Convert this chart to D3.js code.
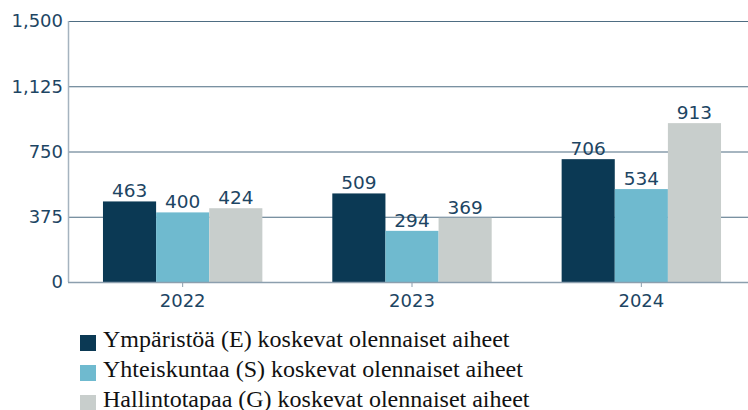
<!DOCTYPE html>
<html>
<head>
<meta charset="utf-8">
<script src="https://cdn.jsdelivr.net/npm/d3@7"></script>
<style>
  body { margin: 0; background: #fff; }
  svg { display: block; }
</style>
</head>
<body>
<svg id="chart" width="748" height="410"></svg>
<script>
// data
var years = ["2022", "2023", "2024"];
var envValues = [463, 509, 706];
var socValues = [400, 294, 534];
var govValues = [424, 369, 913];
var yTicks = [0, 375, 750, 1125, 1500];
var seriesNames = [
	"Ympäristöä (E) koskevat olennaiset aiheet",
	"Yhteiskuntaa (S) koskevat olennaiset aiheet",
	"Hallintotapaa (G) koskevat olennaiset aiheet"
];
var seriesColors = ["#0b3954", "#6fbacf", "#c8cecc"];

var series = [envValues, socValues, govValues];
var textColor = "#1d4563";

var svg = d3.select("#chart");
var plot = { left: 68, right: 756, top: 21, bottom: 282 };

var x = d3.scaleBand().domain(years).range([plot.left, plot.right]).paddingInner(0.305).paddingOuter(0.1525);
var xSub = d3.scaleBand().domain([0, 1, 2]).range([0, x.bandwidth()]);
var y = d3.scaleLinear().domain([0, 1500]).range([plot.bottom, plot.top]);

// gridlines
svg.append("g").selectAll("line")
	.data(yTicks.filter(function (d) { return d > 0; }))
	.enter().append("line")
	.attr("x1", plot.left).attr("x2", 748)
	.attr("y1", function (d) { return y(d) + 0.5; })
	.attr("y2", function (d) { return y(d) + 0.5; })
	.attr("stroke", "#4e6d82").attr("stroke-width", 1.2);

// y labels
svg.append("g").selectAll("text")
	.data(yTicks)
	.enter().append("text")
	.attr("x", plot.left - 5)
	.attr("y", function (d) { return y(d); })
	.attr("dy", "0.35em")
	.attr("text-anchor", "end")
	.attr("font-family", "DejaVu Sans")
	.attr("font-size", 18)
	.attr("fill", textColor)
	.text(function (d) { return d3.format(",")(d); });

// bars
var groups = svg.append("g").selectAll("g")
	.data(years)
	.enter().append("g")
	.attr("transform", function (d) { return "translate(" + x(d) + ",0)"; });

groups.selectAll("rect")
	.data(function (d, i) { return series.map(function (s, k) { return { k: k, v: s[i] }; }); })
	.enter().append("rect")
	.attr("x", function (d) { return xSub(d.k); })
	.attr("width", xSub.bandwidth())
	.attr("y", function (d) { return y(d.v); })
	.attr("height", function (d) { return plot.bottom - y(d.v); })
	.attr("fill", function (d) { return seriesColors[d.k]; });

groups.selectAll("text")
	.data(function (d, i) { return series.map(function (s, k) { return { k: k, v: s[i] }; }); })
	.enter().append("text")
	.attr("x", function (d) { return xSub(d.k) + xSub.bandwidth() / 2; })
	.attr("y", function (d) { return y(d.v) - 4; })
	.attr("text-anchor", "middle")
	.attr("font-family", "DejaVu Sans")
	.attr("font-size", 18.5)
	.attr("fill", textColor)
	.text(function (d) { return d.v; });

// y axis line
svg.append("line")
	.attr("x1", plot.left + 0.5).attr("x2", plot.left + 0.5)
	.attr("y1", plot.top).attr("y2", plot.bottom)
	.attr("stroke", "#a5b3bf").attr("stroke-width", 1.5);

// x axis
var xAxis = svg.append("g")
	.attr("transform", "translate(0," + plot.bottom + ")")
	.call(d3.axisBottom(x).tickSize(5).tickSizeOuter(0));
xAxis.select(".domain").attr("stroke", "#8c9fae").attr("stroke-width", 1.5).attr("d", "M" + plot.left + ",0.5H748");
xAxis.selectAll(".tick line").attr("stroke", "#8c9fae");
xAxis.selectAll(".tick text")
	.attr("font-family", "DejaVu Sans")
	.attr("font-size", 18)
	.attr("fill", textColor)
	.attr("dy", "0.95em");

// legend
var legend = svg.append("g").selectAll("g")
	.data(seriesNames)
	.enter().append("g")
	.attr("transform", function (d, i) { return "translate(80," + (347 + i * 30) + ")"; });

legend.append("rect")
	.attr("x", 0).attr("y", -12)
	.attr("width", 16).attr("height", 16)
	.attr("fill", function (d, i) { return seriesColors[i]; });

legend.append("text")
	.attr("x", 23)
	.attr("y", 0)
	.attr("font-family", "Liberation Serif")
	.attr("font-size", 24)
	.attr("fill", "#111")
	.text(function (d) { return d; });
</script>
</body>
</html>
